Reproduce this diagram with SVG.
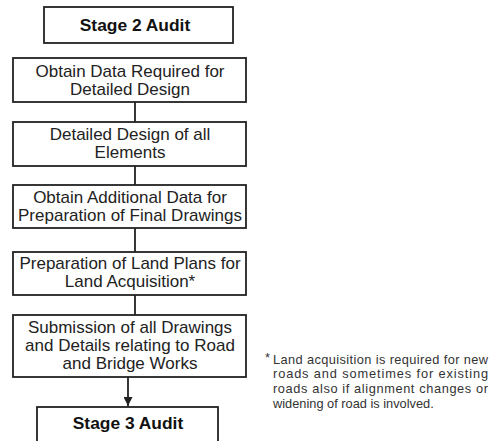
<svg xmlns="http://www.w3.org/2000/svg" width="498" height="441" viewBox="0 0 498 441">
<defs>
<style>
.box{fill:#fff;stroke:#222;stroke-width:1.8}
.t{font-family:"Liberation Sans",Arial,sans-serif;font-size:17px;fill:#222;text-anchor:middle}
.b{font-family:"Liberation Sans",Arial,sans-serif;font-size:17.4px;font-weight:bold;fill:#111;text-anchor:middle}
.n{font-family:"Liberation Sans",Arial,sans-serif;font-size:12.8px;fill:#333}
.c{stroke:#222;stroke-width:1.8;fill:none}
</style>
<marker id="ah" viewBox="0 0 10 10" refX="10" refY="5" markerWidth="5" markerHeight="5" orient="auto" markerUnits="strokeWidth">
<path d="M0,0 L10,5 L0,10 z" fill="#222"/>
</marker>
</defs>
<rect width="498" height="441" fill="#fff"/>
<g id="connectors">
<line class="c" x1="135" y1="102" x2="135" y2="122"/>
<line class="c" x1="135" y1="166" x2="135" y2="185"/>
<line class="c" x1="135" y1="228" x2="135" y2="252"/>
<line class="c" x1="135" y1="295" x2="135" y2="315"/>
<line class="c" x1="128" y1="377" x2="128" y2="406" marker-end="url(#ah)"/>
</g>
<g id="stage2">
<rect class="box" x="44" y="7" width="189" height="36"/>
<text class="b" x="135" y="31">Stage 2 Audit</text>
</g>
<g id="obtain-data">
<rect class="box" x="13" y="58" width="233" height="44"/>
<text class="t" x="130" y="77">Obtain Data Required for</text>
<text class="t" x="130" y="95">Detailed Design</text>
</g>
<g id="detailed-design">
<rect class="box" x="13" y="122" width="233" height="44"/>
<text class="t" x="130" y="140">Detailed Design of all</text>
<text class="t" x="130" y="158">Elements</text>
</g>
<g id="additional-data">
<rect class="box" x="13" y="185" width="233" height="43"/>
<text class="t" x="130" y="203">Obtain Additional Data for</text>
<text class="t" x="130" y="221">Preparation of Final Drawings</text>
</g>
<g id="land-plans">
<rect class="box" x="13" y="252" width="233" height="43"/>
<text class="t" x="130" y="269">Preparation of Land Plans for</text>
<text class="t" x="130" y="287">Land Acquisition*</text>
</g>
<g id="submission">
<rect class="box" x="13" y="315" width="233" height="62"/>
<text class="t" x="130" y="333">Submission of all Drawings</text>
<text class="t" x="130" y="351">and Details relating to Road</text>
<text class="t" x="130" y="369">and Bridge Works</text>
</g>
<g id="stage3">
<rect class="box" x="37" y="407" width="181" height="40"/>
<text class="b" x="128" y="429">Stage 3 Audit</text>
</g>
<g id="footnote">
<text class="n" x="265" y="362">*</text>
<text class="n" x="273" y="364" textLength="215" lengthAdjust="spacing">Land acquisition is required for new</text>
<text class="n" x="273" y="378" textLength="215" lengthAdjust="spacing">roads and sometimes for existing</text>
<text class="n" x="273" y="393" textLength="215" lengthAdjust="spacing">roads also if alignment changes or</text>
<text class="n" x="273" y="408">widening of road is involved.</text>
</g>
</svg>
